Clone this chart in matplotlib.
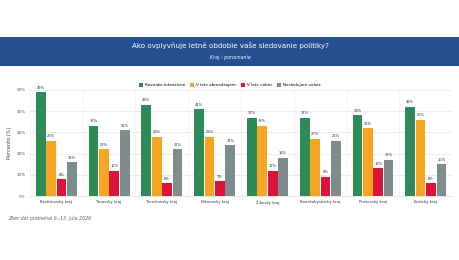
import matplotlib.pyplot as plt
from matplotlib.patches import Rectangle
import numpy as np

kraje = ["Bratislavský kraj", "Trnavský kraj", "Trenčiansky kraj", "Nitriansky kraj",
         "Žilinský kraj", "Banskobystrický kraj", "Prešovský kraj", "Košický kraj"]
rovnako = [49, 33, 43, 41, 37, 37, 38, 42]
obmedzujem = [26, 22, 28, 28, 33, 27, 32, 36]
vobec_v_lete = [8, 12, 6, 7, 12, 9, 13, 6]
nesledujem = [16, 31, 22, 24, 18, 26, 17, 15]
series_names = ["Rovnako intenzívne", "V lete obmedzujem", "V lete vôbec", "Nesledujem vôbec"]
colors = ["#2e8b57", "#f5a623", "#dc143c", "#7f8c8d"]

fig = plt.figure(figsize=(4.6, 2.6), dpi=100)
fig.patch.set_facecolor("white")

# header band
fig.patches.append(Rectangle((0, 0.746), 1, 0.112, transform=fig.transFigure,
                             facecolor="#24508f", edgecolor="none", zorder=0))
fig.text(0.5, 0.826, "Ako ovplyvňuje letné obdobie vaše sledovanie politiky?",
         ha="center", va="center", color="white", fontsize=5.1)
fig.text(0.5, 0.78, "Kraj - porovnanie", ha="center", va="center",
         color="white", fontsize=3.4, style="italic")

ax = fig.add_axes([0.065, 0.246, 0.918, 0.408])
data = [rovnako, obmedzujem, vobec_v_lete, nesledujem]
x = np.arange(len(kraje))
w = 0.185
for i, (vals, c, name) in enumerate(zip(data, colors, series_names)):
    pos = x + (i - 1.5) * (w + 0.012)
    ax.bar(pos, vals, width=w, color=c, label=name, zorder=3)
    for p, v in zip(pos, vals):
        ax.text(p, v + 1.2, f"{v}%", ha="center", va="bottom", fontsize=2.6, color="#333333")

ax.set_xlim(-0.5, len(kraje) - 0.5)
ax.set_ylim(0, 50)
ax.set_yticks(range(0, 51, 10))
ax.set_yticklabels([f"{t}%" for t in range(0, 51, 10)], fontsize=3, color="#555555")
ax.set_xticks(x)
ax.set_xticklabels(kraje, fontsize=2.8, color="#333333")
ax.set_xticks(np.arange(-0.5, len(kraje), 1), minor=True)
ax.tick_params(which="both", length=0, pad=3)
ax.grid(axis="y", color="#e6e6e6", lw=0.5, zorder=0)
ax.grid(axis="x", which="minor", color="#eeeeee", lw=0.5, zorder=0)
ax.grid(axis="x", which="major", visible=False)
for s in ["top", "right", "left"]:
    ax.spines[s].set_visible(False)
ax.spines["bottom"].set_color("#dddddd")
ax.spines["bottom"].set_linewidth(0.5)
ax.set_ylabel("Percento (%)", fontsize=3.6, color="#444444", labelpad=3)

fig.legend(loc="center", bbox_to_anchor=(0.5, 0.673), ncol=4, frameon=False,
           fontsize=3, handlelength=1.0, handleheight=1.0, columnspacing=1.2,
           handletextpad=0.4)

fig.text(0.017, 0.162, "Zber dát prebiehal 6.-13. júla 2026", fontsize=3.4,
         color="#666666", style="italic", ha="left", va="center")

fig.savefig("out.png", dpi=100)
